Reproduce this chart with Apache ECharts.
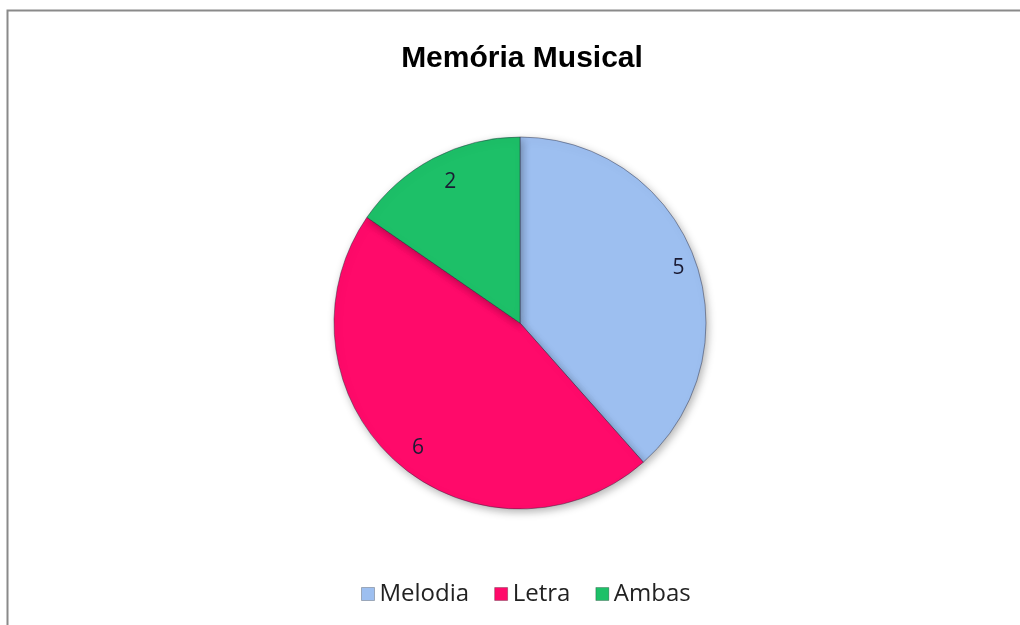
<!DOCTYPE html>
<html>
<head>
<meta charset="utf-8">
<script src="https://cdn.jsdelivr.net/npm/echarts@6/dist/echarts.min.js"></script>
<style>html,body{margin:0;padding:0;background:#fff;}#c{width:1020px;height:625px;}</style>
</head>
<body>
<div id="c"></div>
<script>
const title = 'Memória Musical';
const categories = ['Melodia', 'Letra', 'Ambas'];
const values = [5, 6, 2];
const colors = ['#9DBFF0', '#FF0A6A', '#1DC068'];

const chart = echarts.init(document.getElementById('c'));
chart.setOption({
  animation: false,
  color: colors,
  title: {
    text: title, left: 517, top: 39, textAlign: 'center',
    textStyle: {fontFamily: 'Liberation Sans, Arial', fontSize: 30, fontWeight: 'bold', color: '#000'}
  },
  legend: {
    data: categories, top: 577, left: 356,
    itemWidth: 13, itemHeight: 13, itemGap: 25,
    icon: 'rect',
    itemStyle: {borderColor: 'rgba(0,0,0,0.25)', borderWidth: 1},
    textStyle: {fontFamily: 'Open Sans, Noto Sans', fontSize: 24, color: '#222'}
  },
  graphic: [{
    type: 'rect', shape: {x: 7.5, y: 10.5, width: 1100, height: 700},
    style: {fill: 'none', stroke: '#8a8a8a', lineWidth: 2}, silent: true
  }],
  series: [{
    type: 'pie', center: [520, 323], radius: [0, 186], startAngle: 90, clockwise: true,
    label: {show: false}, labelLine: {show: false},
    itemStyle: {borderColor: 'rgba(40,40,60,0.45)', borderWidth: 1, shadowBlur: 8, shadowColor: 'rgba(0,0,0,0.3)', shadowOffsetX: 2, shadowOffsetY: 3},
    emphasis: {disabled: true},
    data: categories.map((n, i) => ({name: n, value: values[i]}))
  }, {
    type: 'pie', center: [520, 323], radius: [134, 186], startAngle: 90, clockwise: true, silent: true,
    itemStyle: {color: 'rgba(0,0,0,0)'},
    label: {show: true, position: 'inside', formatter: '{c}', fontFamily: 'Open Sans, Noto Sans', fontSize: 21, color: '#1b1b33', offset: [6, 3]},
    labelLine: {show: false},
    emphasis: {disabled: true},
    data: categories.map((n, i) => ({name: n, value: values[i]}))
  }]
});
</script>
</body>
</html>
